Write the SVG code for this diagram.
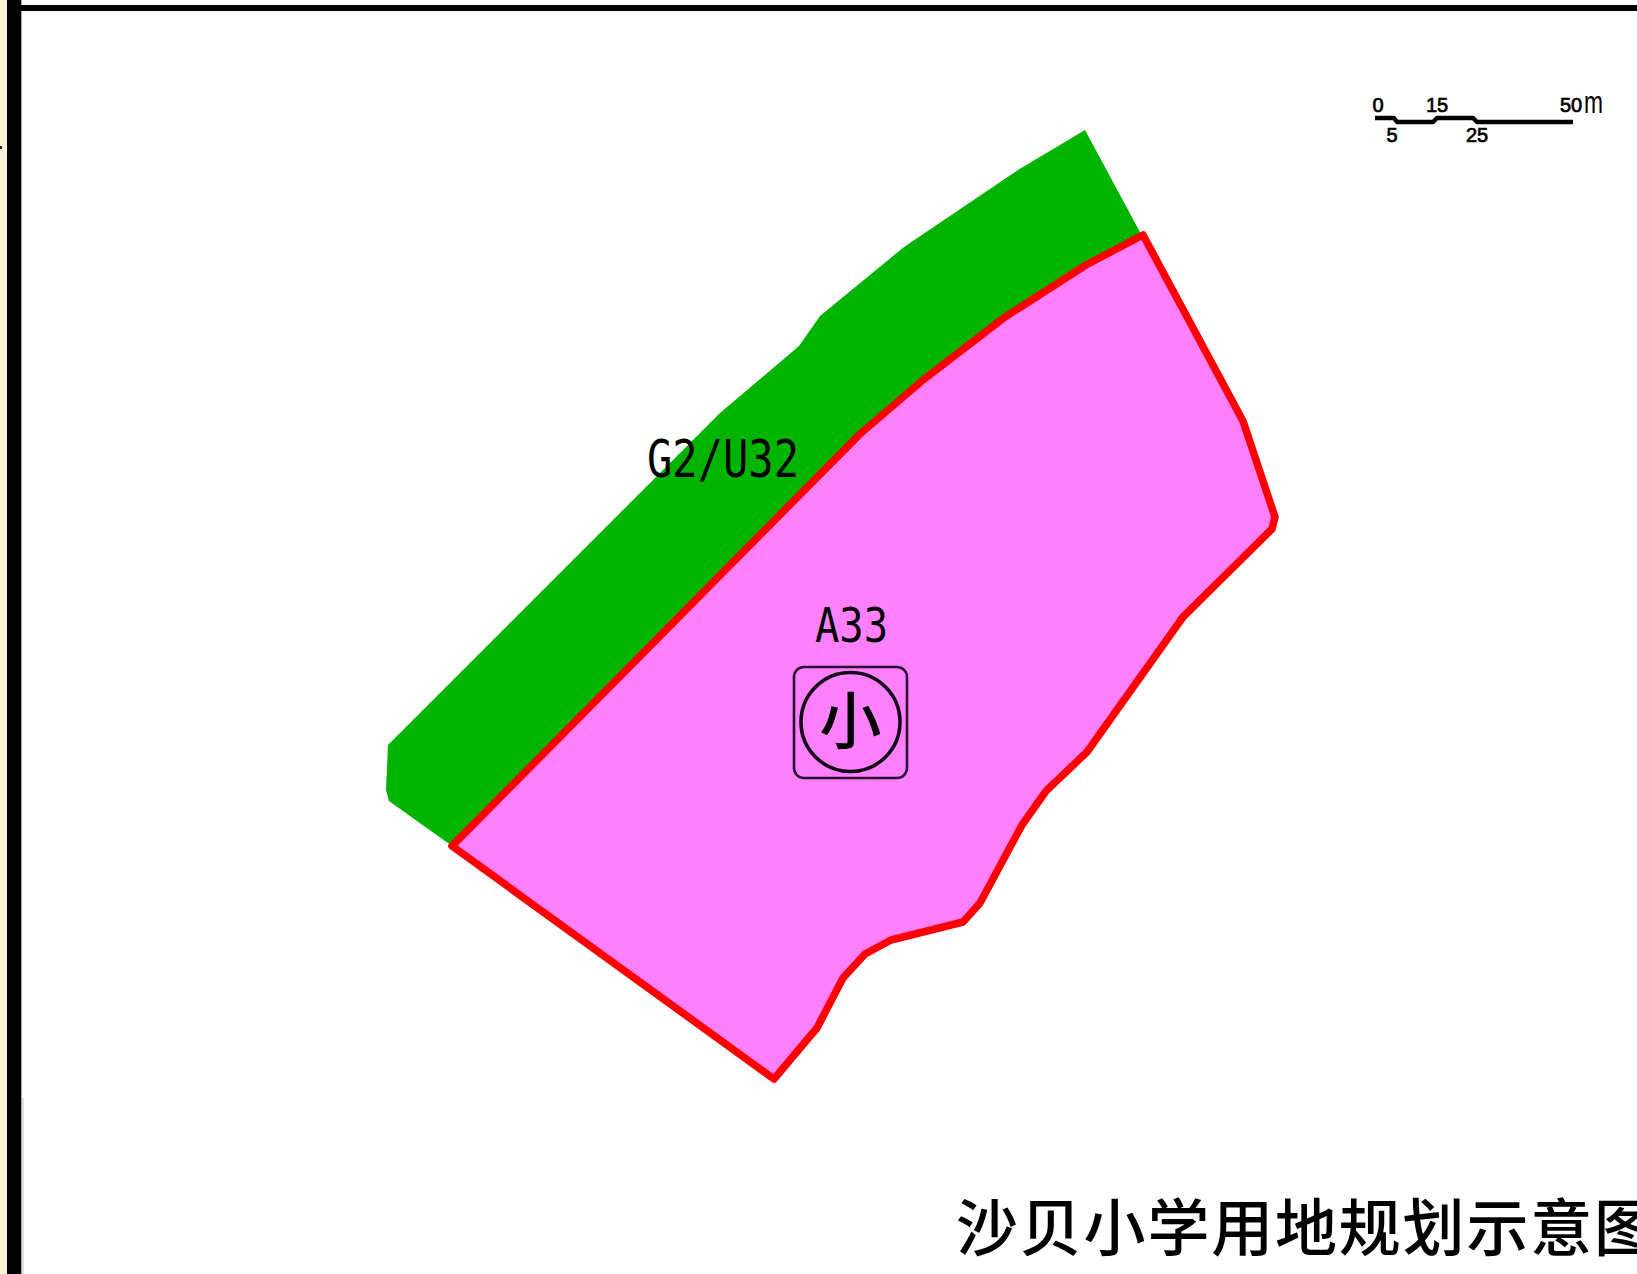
<svg xmlns="http://www.w3.org/2000/svg" width="1637" height="1274" viewBox="0 0 1637 1274">
<style>
.lbl{font-family:"Liberation Sans","DejaVu Sans",sans-serif;fill:#000}
.mono{font-family:"DejaVu Sans Mono","Liberation Mono",monospace;fill:#000}
.cjk{font-family:"Noto Sans CJK SC","Liberation Sans",sans-serif;fill:#000}
.sc{font-size:20px;text-anchor:middle;stroke:#000;stroke-width:.7}
.bar{fill:none;stroke:#000;stroke-width:4.5;stroke-linejoin:round}
</style>
<rect id="background" width="1637" height="1274" fill="#fff"/>
<g id="frame">
<rect x="0" y="0" width="8" height="1274" fill="#f5f5dc"/>
<rect x="7" y="0" width="14" height="1274" fill="#000"/>
<rect x="21" y="0" width="1" height="1274" fill="#aaa"/>
<rect x="22" y="1098" width="2" height="176" fill="#e2e2e2"/>
<rect x="21" y="5" width="1616" height="6" fill="#000"/>
<rect x="0" y="146" width="2" height="3" fill="#222"/>
</g>
<g id="parcel-G2-U32">
<polygon fill="#00b400" points="1085,130 1141,234 1086,265 1005,317 923,380 860,434 452,846 389,801 386,790 388,745 720,413 799,346 820,316 904,247 1018,170"/>
<text class="mono" x="647" y="477" font-size="51" textLength="152" lengthAdjust="spacingAndGlyphs">G2/U32</text>
</g>
<g id="parcel-A33">
<polygon fill="#ff80ff" stroke="#ff0000" stroke-width="7.5" stroke-linejoin="round" points="1143,235 1243,421 1275,517 1272,529 1183,617 1087,752 1046,791 1022,825 980,903 963,922 891,940 865,954 843,978 817,1028 774,1079 452,846 860,434 923,380 1005,317 1086,265"/>
<text class="mono" x="815" y="642" font-size="48" textLength="73" lengthAdjust="spacingAndGlyphs">A33</text>
</g>
<g id="school-symbol">
<rect x="794" y="667" width="113" height="111" rx="10" fill="none" stroke="#2a1030" stroke-width="2.6"/>
<circle cx="850.5" cy="722" r="49.5" fill="none" stroke="#150818" stroke-width="3.6"/>
<text class="cjk" x="850.5" y="744" font-size="62" font-weight="500" text-anchor="middle">小</text>
</g>
<g id="scale-bar">
<path class="bar" d="M1375 118H1394L1397 122H1433L1437 118H1473L1477 122H1573"/>
<text class="lbl sc" x="1378" y="112">0</text>
<text class="lbl sc" x="1437" y="112">15</text>
<text class="lbl sc" x="1392" y="142">5</text>
<text class="lbl sc" x="1477" y="142">25</text>
<text class="lbl sc" x="1571" y="112">50</text>
<text class="lbl" x="1584" y="113" font-size="31" textLength="19" lengthAdjust="spacingAndGlyphs">m</text>
</g>
<g id="title">
<text class="cjk" x="956" y="1251" font-size="62" font-weight="500" letter-spacing="1.8">沙贝小学用地规划示意图</text>
</g>
</svg>
